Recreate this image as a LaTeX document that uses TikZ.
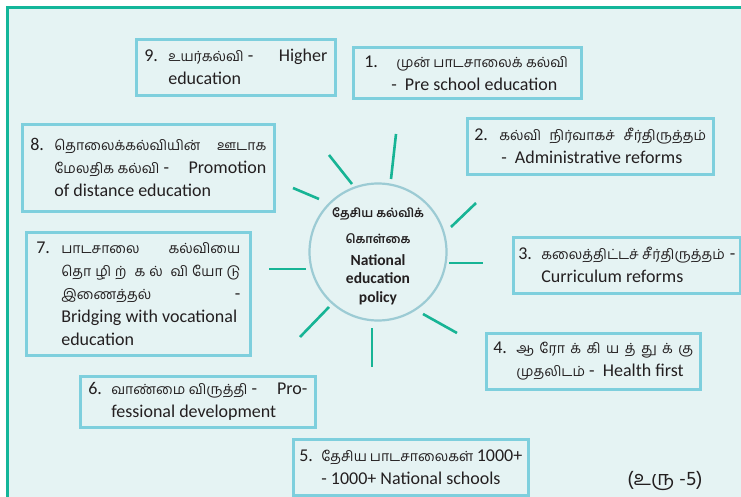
\documentclass[tikz,border=0pt]{standalone}
\usepackage{fontspec}
\setmainfont{Carlito}
\newfontfamily\tam[Script=Tamil,Scale=0.78]{Hind Madurai}
\newfontfamily\tamfull[Script=Tamil]{Hind Madurai}
\definecolor{bgc}{HTML}{E5F3F3}
\definecolor{framec}{HTML}{14B69A}
\definecolor{boxc}{HTML}{7ECFDD}
\definecolor{circc}{HTML}{9CCBD4}
\definecolor{rayc}{HTML}{17B495}
\definecolor{txt}{HTML}{231F20}
\newcommand\li[1]{\hbox to \hsize{#1\hfil}}
\newcommand\tb[2]{\vbox{\hsize=#1\relax #2}}
\tikzset{
  itembox/.style={draw=boxc, line width=2.6pt, fill=bgc, anchor=north west,
    inner ysep=0pt, text=txt, font=\fontsize{18}{23}\selectfont},
  ray/.style={draw=rayc, line width=2.6pt},
  hub/.style={circle, draw=circc, line width=2.2pt, fill=bgc, minimum size=137pt, inner sep=0pt},
  hubtext/.style={align=center, text=txt, inner sep=0pt, font=\bfseries\fontsize{15.5}{18.5}\selectfont},
}
\begin{document}
\begin{tikzpicture}[x=1pt,y=-1pt]
\useasboundingbox (0,0) rectangle (741,497);
\fill[bgc] (7,8) rectangle (741,497);
\draw[framec, line width=2.7pt] (7.3,497) -- (7.3,7.5) -- (741,7.5);

% hub
\node[hub] (c) at (378,252) {};
\node[hubtext] (ct) at (378,256) {{\tam தேசிய கல்விக்}\\[8pt]{\tam கொள்கை}\\[3pt]National\\education\\policy};

% rays
\coordinate (r1a) at (396,134); \coordinate (r1b) at (391,179);
\coordinate (r2a) at (329,155); \coordinate (r2b) at (352,184);
\coordinate (r3a) at (293,188); \coordinate (r3b) at (319,199);
\coordinate (r4a) at (269,269); \coordinate (r4b) at (306,269);
\coordinate (r5a) at (300,337); \coordinate (r5b) at (329,307);
\coordinate (r6a) at (372,328); \coordinate (r6b) at (372,367);
\coordinate (r7a) at (423,314); \coordinate (r7b) at (457,333);
\coordinate (r8a) at (449,263); \coordinate (r8b) at (483,263);
\coordinate (r9a) at (451,227); \coordinate (r9b) at (476,203);
\foreach \i in {1,...,9} \draw[ray] (r\i a) -- (r\i b);

% boxes
\node[itembox, inner xsep=8pt, minimum width=199pt, minimum height=56pt] (b9) at (135,38)
 {\tb{183pt}{\li{\makebox[24pt][l]{9.}{\tam உயர்கல்வி} -\hfill Higher}\li{\hspace*{24pt}education}}};

\node[itembox, inner xsep=11pt, minimum width=228pt, minimum height=51pt] (b1) at (352,46)
 {\tb{206pt}{\li{\makebox[32pt][l]{1.}{\tam முன் பாடசாலைக் கல்வி}}\li{\hspace*{27pt}-\ \ Pre school education}}};

\node[itembox, inner xsep=7pt, minimum width=246pt, minimum height=56pt] (b2) at (466,117)
 {\tb{232pt}{\li{\makebox[25pt][l]{2.}{\tam கல்வி\hfill நிர்வாகச்\hfill சீர்திருத்தம்}}\li{\hspace*{27pt}-\ \ Administrative reforms}}};

\node[itembox, inner xsep=8pt, minimum width=252pt, minimum height=87pt] (b8) at (21,123)
 {\tb{236pt}{\li{\makebox[24pt][l]{8.}{\tam தொலைக்கல்வியின்\hfill ஊடாக}}%
  \li{\hspace*{24pt}{\tam மேலதிக கல்வி} -\hfill Promotion}%
  \li{\hspace*{24pt}of distance education}}};

\node[itembox, inner xsep=10pt, minimum width=224pt, minimum height=123pt] (b7) at (25,231)
 {\tb{204pt}{\li{\makebox[25pt][l]{7.}{\tam பாடசாலை\hfill கல்வியை}}%
  \li{\hspace*{25pt}{\tam தொ\hfill ழி\hfill ற்\hfill\hfill க\hfill ல்\hfill\hfill வி\hfill யோ\hfill டு}}%
  \li{\hspace*{25pt}{\tam இணைத்தல்}\hfill -}%
  \li{\hspace*{25pt}Bridging with vocational}%
  \li{\hspace*{25pt}education}}};

\node[itembox, inner xsep=8pt, minimum width=235pt, minimum height=51pt] (b6) at (79,375)
 {\tb{219pt}{\li{\makebox[23pt][l]{6.}{\tam வாண்மை விருத்தி} -\hfill Pro-}\li{\hspace*{23pt}fessional development}}};

\node[itembox, inner xsep=6pt, minimum width=235pt, minimum height=56pt] (b5) at (292,438)
 {\tb{223pt}{\li{\makebox[22pt][l]{5.}{\tam தேசிய பாடசாலைகள்} 1000+}\li{\hspace*{22pt}- 1000+ National schools}}};

\node[itembox, inner xsep=5pt, minimum width=227pt, minimum height=56pt] (b3) at (512,236)
 {\tb{217pt}{\li{\makebox[23pt][l]{3.}{\tam கலைத்திட்டச் சீர்திருத்தம்}\hfill -}\li{\hspace*{23pt}Curriculum reforms}}};

\node[itembox, inner xsep=7pt, minimum width=214pt, minimum height=56pt] (b4) at (485,332)
 {\tb{200pt}{\li{\makebox[23pt][l]{4.}{\tam ஆ\hfill ரோ\hfill க்\hfill கி\hfill ய\hfill த்\hfill து\hfill க்\hfill கு}}\li{\hspace*{23pt}{\tam முதலிடம்} -\ \ Health first}}};

\node[text=txt, font=\tamfull\fontsize{20}{22}\selectfont] (fig) at (665,481) {(உரு -5)};
\end{tikzpicture}
\end{document}
